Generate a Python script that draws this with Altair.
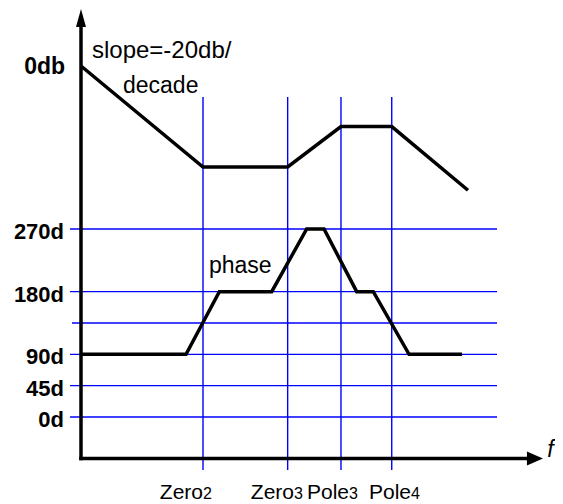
import altair as alt
import pandas as pd

# ---- data (x in decades of log f from the axis origin) ----
corner_freq = [1.0, 1.694, 2.131, 2.547]          # Zero2, Zero3, Pole3, Pole4

mag_freq = [0.0, 1.0, 1.694, 2.131, 2.547, 3.172]
mag_db = [0, -20, -20, -12, -12, -24.6]

phase_freq = [0.0, 0.861, 1.134, 1.563, 1.850, 1.992, 2.260, 2.396, 2.689, 3.123]
phase_deg = [90, 90, 180, 180, 270, 270, 180, 180, 90, 90]

grid_deg = [0, 45, 90, 135, 180, 270]
grid_start = [-0.090, -0.090, -0.090, -0.074, -0.090, -0.090]
phase_tick_values = [270, 180, 90, 45, 0]
phase_tick_labels = ["270d", "180d", "90d", "45d", "0d"]

x_label_main = ["Zero", "Zero", "Pole", "Pole"]
x_label_sub = ["2", "3", "3", "4"]
x_label_split = [1.0, 1.746, 2.197, 2.705]

FONT = "Liberation Sans"
BLUE = "#0000FF"

# ---- scales ----
XS = alt.Scale(domain=[-0.59836, 3.88525], nice=False, zero=False)
YP = alt.Scale(domain=[-113.45, 587.4], nice=False, zero=False)   # phase (deg)
YM = alt.Scale(domain=[-85.149, 11.485], nice=False, zero=False)  # magnitude (db)


def X(field):
    return alt.X(field, type="quantitative", scale=XS, axis=None)


def YPh(field):
    return alt.Y(field, type="quantitative", scale=YP, axis=None)


def YMg(field):
    return alt.Y(field, type="quantitative", scale=YM, axis=None)


grid_df = pd.DataFrame({"deg": grid_deg, "x0": grid_start, "x1": 3.41})
hgrid = alt.Chart(grid_df).mark_rule(color=BLUE, strokeWidth=1.4).encode(
    x=X("x0"), x2="x1", y=YPh("deg"))

vl_df = pd.DataFrame({"f": corner_freq, "top": 459.6, "bot": -76.1})
vgrid = alt.Chart(vl_df).mark_rule(color=BLUE, strokeWidth=1.4).encode(
    x=X("f"), y=YPh("top"), y2="bot")

axes_df = pd.DataFrame({"x": [0.0, 0.0], "x2": [0.0, 3.656],
                        "y": [-59.5, -59.5], "y2": [560.0, -59.5]})
axes = alt.Chart(axes_df).mark_rule(color="black", strokeWidth=3.5, strokeCap="square").encode(
    x=X("x"), x2="x2", y=YPh("y"), y2="y2")

up_df = pd.DataFrame({"x": [0.0], "y": [573.0]})
up_arrow = alt.Chart(up_df).mark_point(
    shape="M0,-1L0.556,1L-0.556,1Z", size=324, filled=True, color="black", opacity=1, strokeWidth=0
).encode(x=X("x"), y=YPh("y"))

right_df = pd.DataFrame({"x": [3.721], "y": [-59.5]})
right_arrow = alt.Chart(right_df).mark_point(
    shape="M1,0L-1,-0.875L-1,0.875Z", size=256, filled=True, color="black", opacity=1, strokeWidth=0
).encode(x=X("x"), y=YPh("y"))

mag_df = pd.DataFrame({"f": mag_freq, "db": mag_db})
mag = alt.Chart(mag_df).mark_line(color="black", strokeWidth=3.5).encode(
    x=X("f"), y=YMg("db"))

ph_df = pd.DataFrame({"f": phase_freq, "deg": phase_deg})
phase = alt.Chart(ph_df).mark_line(color="black", strokeWidth=3.5).encode(
    x=X("f"), y=YPh("deg"))

tick_df = pd.DataFrame({"deg": phase_tick_values, "label": phase_tick_labels, "x": -0.139})
ticks = alt.Chart(tick_df).mark_text(
    font=FONT, fontSize=22, fontWeight="bold", align="right", baseline="alphabetic", dy=10, color="black"
).encode(x=X("x"), y=YPh("deg"), text="label:N")

db_df = pd.DataFrame({"db": [0], "label": ["0db"], "x": -0.131})
dbtick = alt.Chart(db_df).mark_text(
    font=FONT, fontSize=23, fontWeight="bold", align="right", baseline="alphabetic", dy=8, color="black"
).encode(x=X("x"), y=YMg("db"), text="label:N")

slope_df = pd.DataFrame({"x": [0.090], "db": [1.58], "label": ["slope=-20db/"]})
slope_ann = alt.Chart(slope_df).mark_text(
    font=FONT, fontSize=24, align="left", baseline="alphabetic", color="black"
).encode(x=X("x"), y=YMg("db"), text="label:N")

dec_df = pd.DataFrame({"x": [0.344], "db": [-5.35], "label": ["decade"]})
dec_ann = alt.Chart(dec_df).mark_text(
    font=FONT, fontSize=23, align="left", baseline="alphabetic", color="black"
).encode(x=X("x"), y=YMg("db"), text="label:N")

ph_ann_df = pd.DataFrame({"x": [1.049], "deg": [206.8], "label": ["phase"]})
ph_ann = alt.Chart(ph_ann_df).mark_text(
    font=FONT, fontSize=23, align="left", baseline="alphabetic", color="black"
).encode(x=X("x"), y=YPh("deg"), text="label:N")

f_df = pd.DataFrame({"x": [3.875], "deg": [-57.4], "label": ["f"]})
f_lbl = alt.Chart(f_df).mark_text(
    font=FONT, fontSize=23, fontStyle="italic", align="right", baseline="alphabetic", color="black"
).encode(x=X("x"), y=YPh("deg"), text="label:N")

xl_df = pd.DataFrame({"x": x_label_split, "main": x_label_main, "sub": x_label_sub, "deg": -117.5})
xl_main = alt.Chart(xl_df).mark_text(
    font=FONT, fontSize=21, align="right", baseline="alphabetic", color="black"
).encode(x=X("x"), y=YPh("deg"), text="main:N")
xl_sub = alt.Chart(xl_df).mark_text(
    font=FONT, fontSize=16, align="left", baseline="alphabetic", color="black"
).encode(x=X("x"), y=YPh("deg"), text="sub:N")

chart = alt.layer(
    hgrid, vgrid, axes, up_arrow, right_arrow, mag, phase,
    ticks, dbtick, slope_ann, dec_ann, ph_ann, f_lbl, xl_main, xl_sub
).resolve_scale(y="independent").properties(
    width=547, height=488, autosize="none",
    padding={"left": 0, "top": 0, "right": 0, "bottom": 8},
    background="white"
).configure_view(stroke=None)

chart.save("out.html", embed_options={"renderer": "svg", "actions": False})
